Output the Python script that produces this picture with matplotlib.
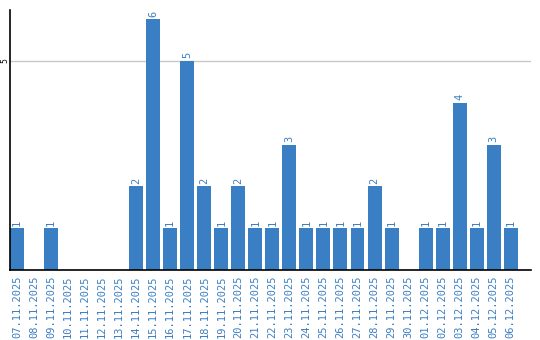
import numpy as np
import matplotlib
matplotlib.use("Agg")
from matplotlib import pyplot as plt

dates = ["07.11.2025", "08.11.2025", "09.11.2025", "10.11.2025", "11.11.2025",
         "12.11.2025", "13.11.2025", "14.11.2025", "15.11.2025", "16.11.2025",
         "17.11.2025", "18.11.2025", "19.11.2025", "20.11.2025", "21.11.2025",
         "22.11.2025", "23.11.2025", "24.11.2025", "25.11.2025", "26.11.2025",
         "27.11.2025", "28.11.2025", "29.11.2025", "30.11.2025", "01.12.2025",
         "02.12.2025", "03.12.2025", "04.12.2025", "05.12.2025", "06.12.2025"]
counts = [1, 0, 1, 0, 0, 0, 0, 2, 6, 1,
          5, 2, 1, 2, 1, 1, 3, 1, 1, 1,
          1, 2, 1, 0, 1, 1, 4, 1, 3, 1]

blue = "#3a7ec3"

fig = plt.figure(figsize=(5.4, 3.4), dpi=100)
ax = fig.add_axes([10 / 540, 70 / 340, 521 / 540, 260 / 340])

x = np.arange(len(dates))
ax.bar(x, counts, width=0.82, color=blue, zorder=2)
for xi, c in zip(x, counts):
    if c > 0:
        ax.text(xi, c + 0.06, str(c), rotation=90, ha="center", va="bottom",
                color=blue, fontsize=7.5, family="DejaVu Sans Mono")

ax.set_xlim(-0.41, 30.19)
ax.set_ylim(0, 6.22)
ax.set_yticks([5])
ax.set_yticklabels(["5"], rotation=90, va="center", fontsize=5.5)
ax.tick_params(axis="y", length=0, pad=0.5)
ax.yaxis.grid(True, color="#c8c8c8", linewidth=1, zorder=0)

ax.set_xticks(x)
ax.set_xticklabels(dates, rotation=90, color=blue, fontsize=7.5,
                   family="DejaVu Sans Mono")
ax.tick_params(axis="x", length=0, pad=4)

for s in ["top", "right"]:
    ax.spines[s].set_visible(False)
ax.spines["left"].set_linewidth(1.2)
ax.spines["bottom"].set_linewidth(1.2)

fig.savefig("out.png", dpi=100)
